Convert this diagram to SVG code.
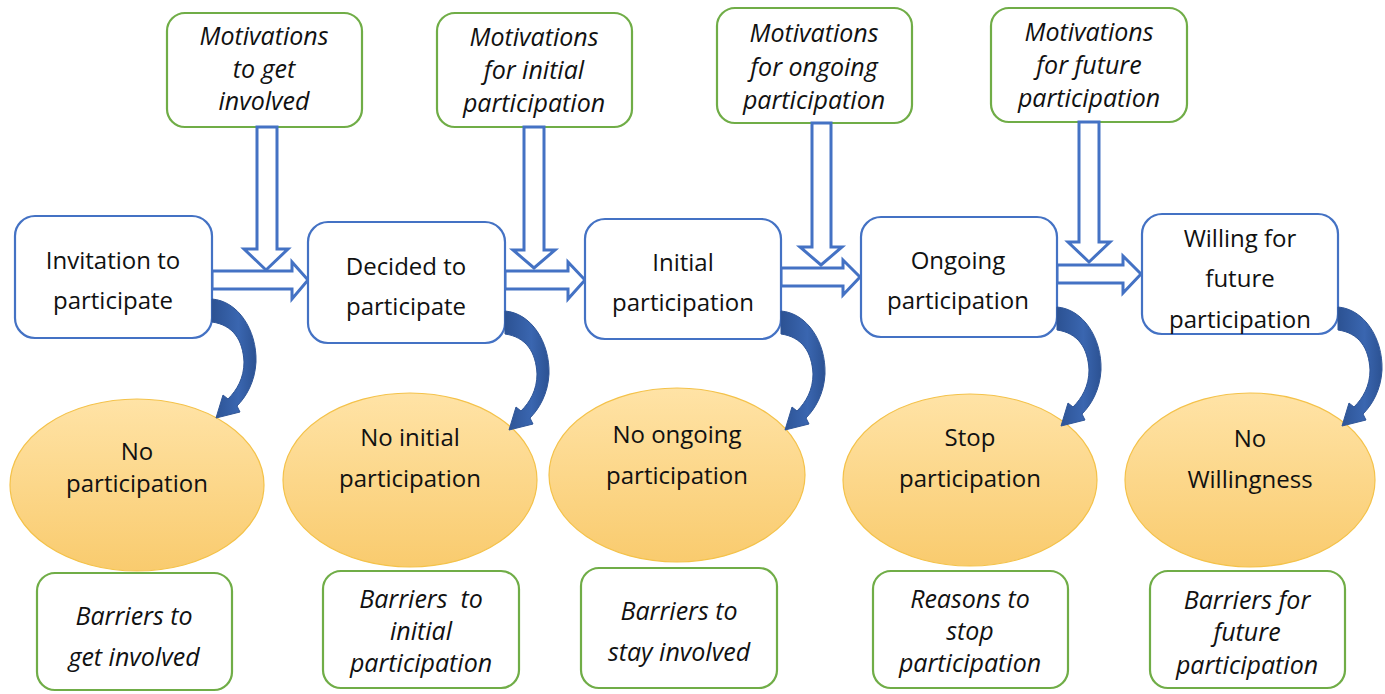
<svg xmlns="http://www.w3.org/2000/svg" width="1385" height="694" viewBox="0 0 1385 694">
<defs>
<linearGradient id="og" x1="0" y1="0" x2="0" y2="1">
<stop offset="0" stop-color="#FFE3A6"/>
<stop offset="1" stop-color="#F9CB6E"/>
</linearGradient>
<linearGradient id="bg" x1="0" y1="0" x2="1" y2="0">
<stop offset="0" stop-color="#2C5293"/>
<stop offset="0.6" stop-color="#3A66B0"/>
<stop offset="1" stop-color="#2C5293"/>
</linearGradient>
<path id="curve" d="M0,-1 C26,1 45,30 44,62 C43,82 34,97 25,106 L28,112 L4,118 L11,95 L16,99 C25,90 32,78 32,62 C31,40 21,25 0,22 Z"/>
<style>
.bb{fill:#fff;stroke:#4472C4;stroke-width:2.2}
.gb{fill:#fff;stroke:#70AD47;stroke-width:2.2}
.el{fill:url(#og);stroke:#F4C24A;stroke-width:1.2}
.t{font-family:"Open Sans","Liberation Sans",sans-serif;font-size:24px;fill:#111;text-anchor:middle}
.i{font-style:italic;font-size:25px}
.ha{fill:#fff;stroke:#4472C4;stroke-width:3;stroke-linejoin:miter}
.ch{fill:url(#bg);stroke:#2F5597;stroke-width:1}
</style>
</defs>
<rect width="1385" height="694" fill="#fff"/>

<g id="motiv1"><rect class="gb" x="167" y="13" width="195" height="114" rx="18"/>
<text class="t i" x="264" y="45">Motivations</text><text class="t i" x="264" y="78">to get</text><text class="t i" x="264" y="110">involved</text></g>
<g id="motiv2"><rect class="gb" x="437" y="13" width="195" height="114" rx="18"/>
<text class="t i" x="534" y="46">Motivations</text><text class="t i" x="534" y="79">for initial</text><text class="t i" x="534" y="112">participation</text></g>
<g id="motiv3"><rect class="gb" x="717" y="8" width="195" height="115" rx="18"/>
<text class="t i" x="814" y="42">Motivations</text><text class="t i" x="814" y="76">for ongoing</text><text class="t i" x="814" y="109">participation</text></g>
<g id="motiv4"><rect class="gb" x="991" y="8" width="196" height="114" rx="18"/>
<text class="t i" x="1089" y="41">Motivations</text><text class="t i" x="1089" y="74">for future</text><text class="t i" x="1089" y="107">participation</text></g>

<g id="connectors-straight">
<polygon class="ha" points="212,271 292,271 292,262 308,280 292,299 292,289 212,289"/>
<polygon class="ha" points="505,271 568,271 568,262 585,280 568,299 568,289 505,289"/>
<polygon class="ha" points="781,268 843,268 843,260 860,277 843,295 843,286 781,286"/>
<polygon class="ha" points="1057,265 1123,265 1123,256 1141,274 1123,293 1123,283 1057,283"/>
<polygon class="ha" points="257,127 277,127 277,249 288,249 266,270 244,249 257,249"/>
<polygon class="ha" points="524,127 544,127 544,250 555,250 534,268 513,250 524,250"/>
<polygon class="ha" points="812,123 831,123 831,247 842,247 821,265 800,247 812,247"/>
<polygon class="ha" points="1079,122 1099,122 1099,242 1110,242 1089,262 1068,242 1079,242"/>
</g>

<g id="invitation"><rect class="bb" x="15" y="216" width="197" height="122" rx="20"/>
<text class="t" x="113" y="269">Invitation to</text><text class="t" x="113" y="309">participate</text></g>
<g id="decided"><rect class="bb" x="308" y="222" width="197" height="121" rx="20"/>
<text class="t" x="406" y="275">Decided to</text><text class="t" x="406" y="315">participate</text></g>
<g id="initial"><rect class="bb" x="585" y="219" width="196" height="120" rx="20"/>
<text class="t" x="683" y="271">Initial</text><text class="t" x="683" y="311">participation</text></g>
<g id="ongoing"><rect class="bb" x="861" y="217" width="196" height="120" rx="20"/>
<text class="t" x="958" y="269">Ongoing</text><text class="t" x="958" y="309">participation</text></g>
<g id="willing"><rect class="bb" x="1142" y="214" width="196" height="120" rx="20"/>
<text class="t" x="1240" y="247">Willing for</text><text class="t" x="1240" y="287">future</text><text class="t" x="1240" y="328">participation</text></g>

<g id="noparticipation"><ellipse class="el" cx="137" cy="485" rx="127" ry="86"/>
<text class="t" x="137" y="460">No</text><text class="t" x="137" y="492">participation</text></g>
<g id="noinitial"><ellipse class="el" cx="410" cy="480" rx="127" ry="87"/>
<text class="t" x="410" y="446">No initial</text><text class="t" x="410" y="487">participation</text></g>
<g id="noongoing"><ellipse class="el" cx="677" cy="475" rx="128" ry="87"/>
<text class="t" x="677" y="443">No ongoing</text><text class="t" x="677" y="484">participation</text></g>
<g id="stop"><ellipse class="el" cx="970" cy="480" rx="127" ry="86"/>
<text class="t" x="970" y="446">Stop</text><text class="t" x="970" y="487">participation</text></g>
<g id="nowillingness"><ellipse class="el" cx="1250" cy="480" rx="125" ry="87"/>
<text class="t" x="1250" y="447">No</text><text class="t" x="1250" y="488">Willingness</text></g>

<g id="barriers1"><rect class="gb" x="37" y="573" width="195" height="117" rx="18"/>
<text class="t i" x="134" y="625">Barriers to</text><text class="t i" x="134" y="666">get involved</text></g>
<g id="barriers2"><rect class="gb" x="323" y="571" width="196" height="117" rx="18"/>
<text class="t i" x="421" y="608" xml:space="preserve">Barriers  to</text><text class="t i" x="421" y="640">initial</text><text class="t i" x="421" y="672">participation</text></g>
<g id="barriers3"><rect class="gb" x="581" y="568" width="196" height="120" rx="18"/>
<text class="t i" x="679" y="620">Barriers to</text><text class="t i" x="679" y="661">stay involved</text></g>
<g id="reasons4"><rect class="gb" x="873" y="571" width="195" height="117" rx="18"/>
<text class="t i" x="970" y="608">Reasons to</text><text class="t i" x="970" y="640">stop</text><text class="t i" x="970" y="672">participation</text></g>
<g id="barriers5"><rect class="gb" x="1150" y="571" width="195" height="117" rx="18"/>
<text class="t i" x="1247" y="609">Barriers for</text><text class="t i" x="1247" y="641">future</text><text class="t i" x="1247" y="674">participation</text></g>

<g id="connectors-curved">
<use href="#curve" class="ch" transform="translate(212,300)"/>
<use href="#curve" class="ch" transform="translate(505,312)"/>
<use href="#curve" class="ch" transform="translate(781,312)"/>
<use href="#curve" class="ch" transform="translate(1057,308)"/>
<use href="#curve" class="ch" transform="translate(1338,308)"/>
</g>
</svg>
